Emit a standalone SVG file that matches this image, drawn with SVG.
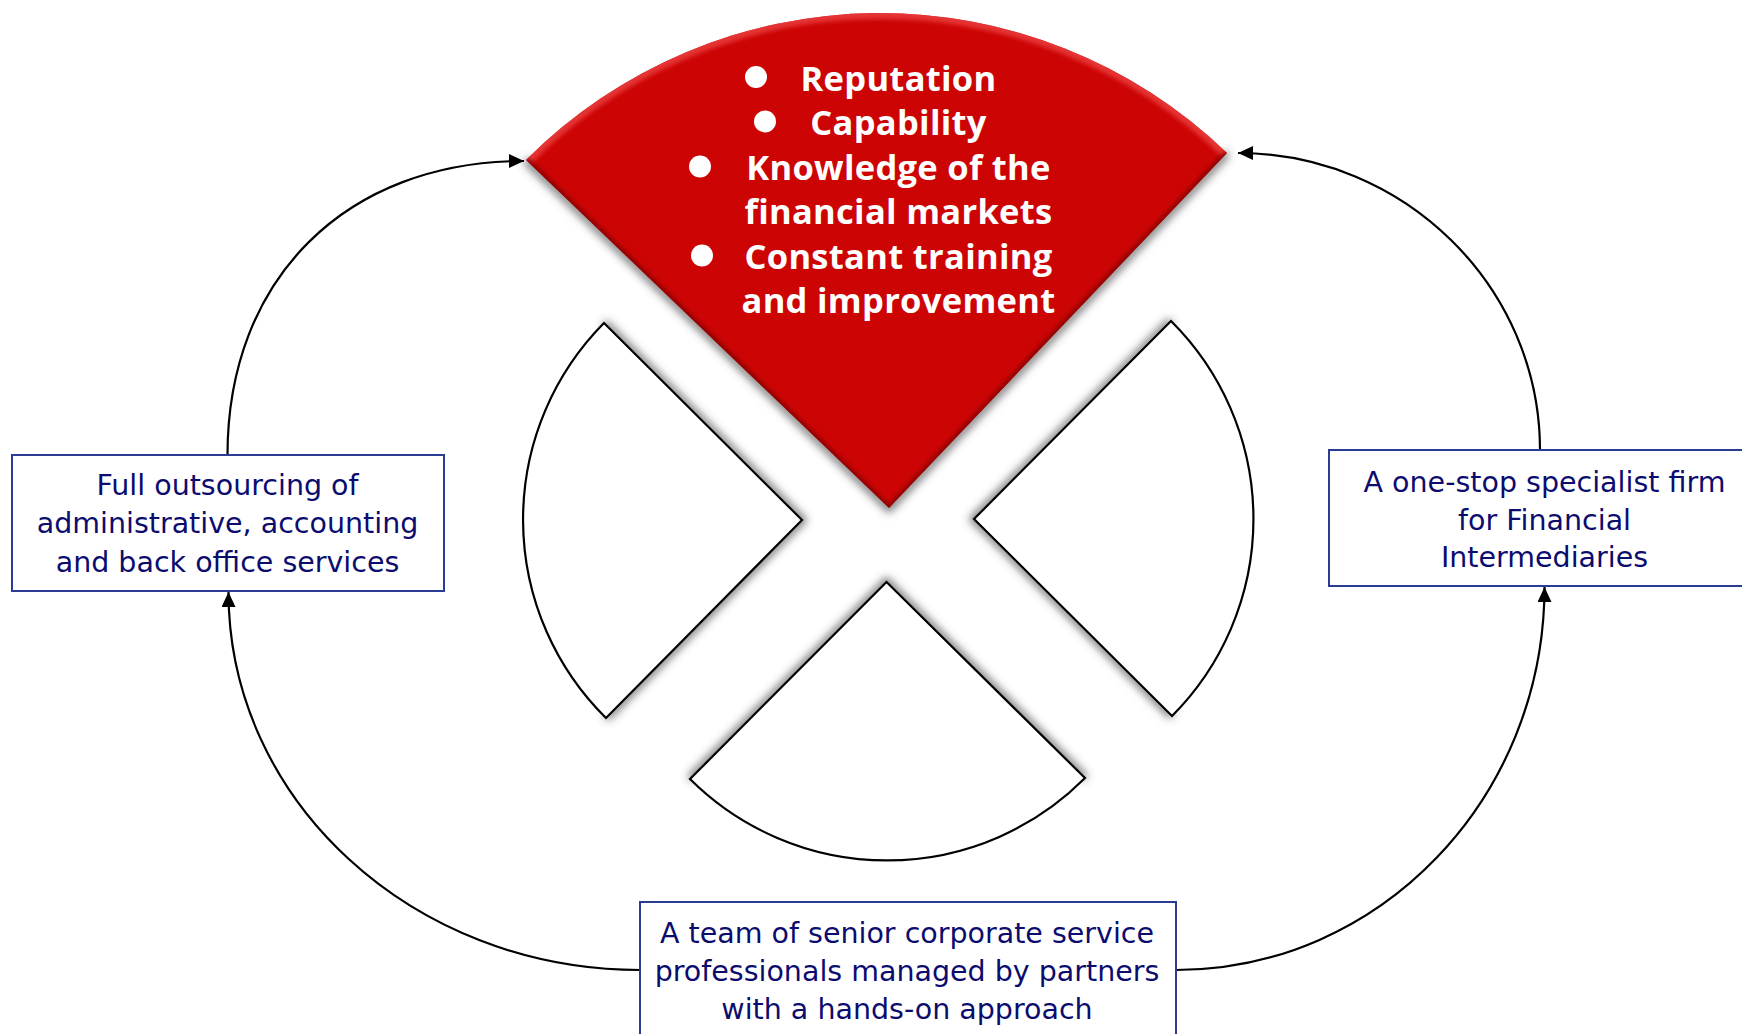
<svg xmlns="http://www.w3.org/2000/svg" width="1742" height="1034" viewBox="0 0 1742 1034">
  <style>
    .sector { fill: #ffffff; stroke: #000000; stroke-width: 2.2; stroke-linejoin: miter; }
    .shadow { fill: none; stroke: #4a4a4a; stroke-width: 8; stroke-opacity: 0.75; stroke-linejoin: miter; }
    .box { fill: #ffffff; stroke: #2B3C94; stroke-width: 2; }
    .boxtext { font-family: "DejaVu Sans", Verdana, sans-serif; font-size: 28.5px; fill: #0C0C6E; text-anchor: middle; }
    .redtext { font-family: "Open Sans", "DejaVu Sans", sans-serif; font-weight: bold; font-size: 34.5px; letter-spacing: 0.3px; fill: #ffffff; text-anchor: middle; }
    .bullet { fill: #ffffff; }
    .conn { fill: none; stroke: #000000; stroke-width: 2.2; }
  </style>
  <defs>
    <filter id="blur4" x="-20%" y="-20%" width="140%" height="140%">
      <feGaussianBlur stdDeviation="4"/>
    </filter>
    <filter id="blur2" x="-20%" y="-20%" width="140%" height="140%">
      <feGaussianBlur stdDeviation="2.2"/>
    </filter>
    <clipPath id="redClip">
      <path d="M889,508 L526,160 A500 500 0 0 1 1227,153 Z"/>
    </clipPath>
    <marker id="arrow" markerUnits="userSpaceOnUse" markerWidth="16" markerHeight="14" refX="15" refY="7" orient="auto">
      <path d="M0,0 L15,7 L0,14 Z" fill="#000000"/>
    </marker>
  </defs>

  <rect x="0" y="0" width="1742" height="1034" fill="#ffffff"/>

  <!-- shadows under sectors -->
  <g id="shadows" filter="url(#blur4)">
    <polyline class="shadow" points="526,160 889,508 1227,153"/>
    <polyline class="shadow" points="604,323 802,520 606,718"/>
    <polyline class="shadow" points="1171,321 974,519 1172,716"/>
    <polyline class="shadow" points="1085,778 886.5,582 690,779"/>
  </g>

  <g id="node-sector-left">
    <path class="sector" d="M802,520 L604,323 A279 279 0 0 0 606,718 Z"/>
  </g>
  <g id="node-sector-right">
    <path class="sector" d="M974,519 L1171,321 A279 279 0 0 1 1172,716 Z"/>
  </g>
  <g id="node-sector-bottom">
    <path class="sector" d="M886.5,582 L1085,778 A279 279 0 0 1 690,779 Z"/>
  </g>

  <g id="node-red">
    <path d="M889,508 L526,160 A500 500 0 0 1 1227,153 Z" fill="#CC0404"/>
    <g clip-path="url(#redClip)">
      <path d="M526,160 A500 500 0 0 1 1227,153" fill="none" stroke="#EE4444" stroke-width="12" stroke-opacity="0.75" filter="url(#blur2)"/>
      <polyline points="526,160 889,508 1227,153" fill="none" stroke="#7A0000" stroke-width="6" stroke-opacity="0.8" filter="url(#blur2)"/>
    </g>
    <circle class="bullet" cx="756" cy="77" r="11"/>
    <circle class="bullet" cx="765" cy="121.5" r="11"/>
    <circle class="bullet" cx="700" cy="166.5" r="11"/>
    <circle class="bullet" cx="702" cy="255.5" r="11"/>
    <text class="redtext" x="898.5" y="91">Reputation</text>
    <text class="redtext" x="898.5" y="135">Capability</text>
    <text class="redtext" x="898.5" y="180">Knowledge of the</text>
    <text class="redtext" x="898.5" y="224">financial markets</text>
    <text class="redtext" x="898.5" y="269">Constant training</text>
    <text class="redtext" x="898.5" y="313">and improvement</text>
  </g>

  <g id="connectors">
    <path class="conn" marker-end="url(#arrow)" d="M227.5,455 C227.5,278.6 346,161 524,161"/>
    <path class="conn" marker-end="url(#arrow)" d="M640,970 C412.7,970 228.5,800.8 228.5,592"/>
    <path class="conn" marker-end="url(#arrow)" d="M1176,970 C1379.5,970 1544.5,798.5 1544.5,587"/>
    <path class="conn" marker-end="url(#arrow)" d="M1540,450 C1540,286.6 1404,153 1238,153"/>
  </g>

  <g id="node-box-left">
    <rect class="box" x="12" y="455" width="432" height="136"/>
    <text class="boxtext" x="227.5" y="495">Full outsourcing of</text>
    <text class="boxtext" x="227.5" y="533">administrative, accounting</text>
    <text class="boxtext" x="227.5" y="571.5">and back office services</text>
  </g>

  <g id="node-box-right">
    <rect class="box" x="1329" y="450" width="430" height="136"/>
    <text class="boxtext" x="1544.5" y="491.5">A one-stop specialist firm</text>
    <text class="boxtext" x="1544.5" y="529.5">for Financial</text>
    <text class="boxtext" x="1544.5" y="567">Intermediaries</text>
  </g>

  <g id="node-box-bottom">
    <rect class="box" x="640" y="902" width="536" height="150"/>
    <text class="boxtext" x="907" y="943">A team of senior corporate service</text>
    <text class="boxtext" x="907" y="981">professionals managed by partners</text>
    <text class="boxtext" x="907" y="1019">with a hands-on approach</text>
  </g>
</svg>
